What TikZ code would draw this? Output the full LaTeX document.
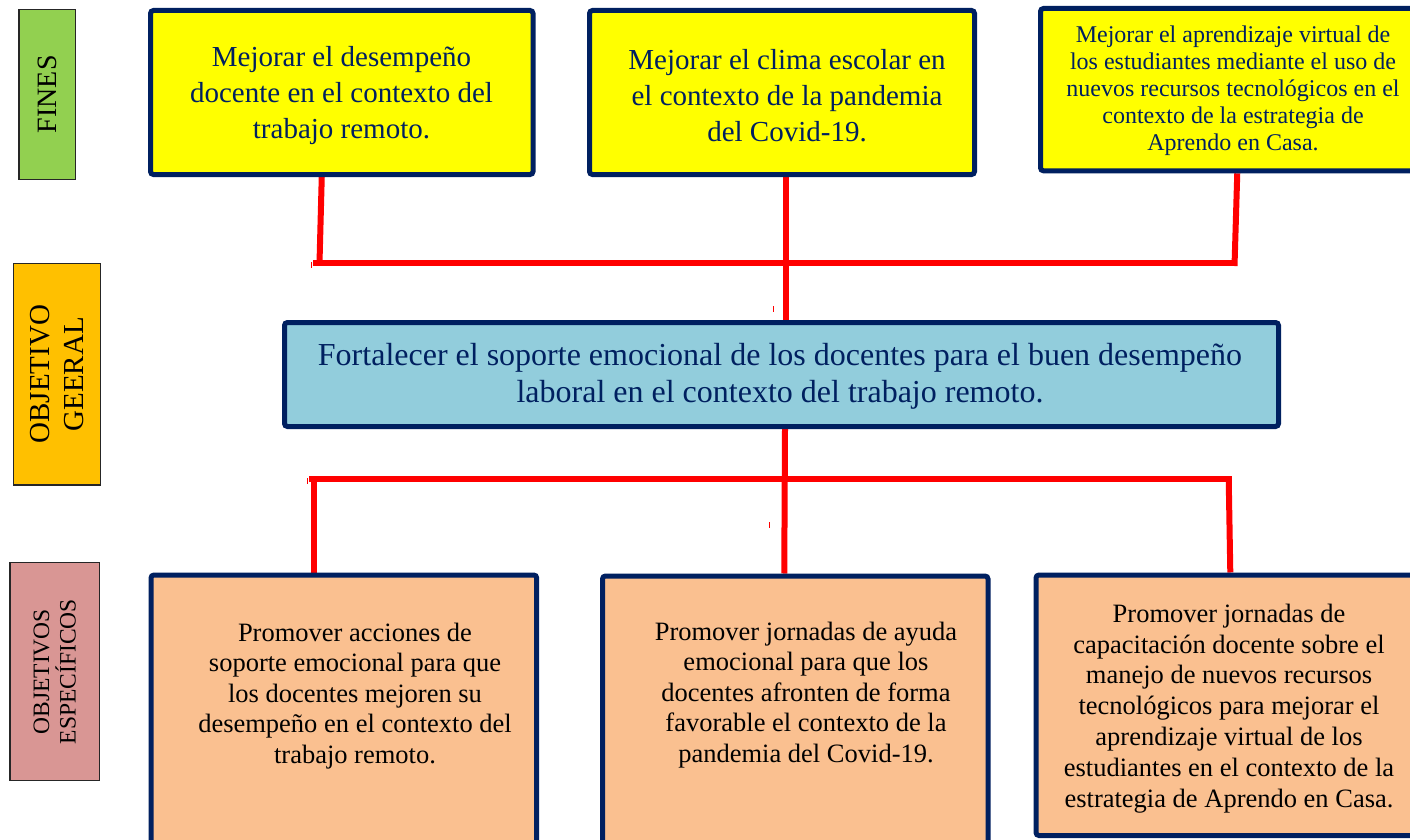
\documentclass[tikz,border=0pt]{standalone}
\usepackage{fontspec}
\setmainfont{Liberation Serif}
\usetikzlibrary{calc}
\definecolor{navy}{RGB}{0,32,96}
\definecolor{finesgreen}{RGB}{146,208,80}
\definecolor{goldlab}{RGB}{255,192,0}
\definecolor{roselab}{RGB}{217,150,148}
\definecolor{topyellow}{RGB}{255,255,0}
\definecolor{midblue}{RGB}{146,205,220}
\definecolor{peach}{RGB}{250,192,144}
\pgfdeclarelayer{bg}
\pgfdeclarelayer{wires}
\pgfsetlayers{bg,wires,main}
\begin{document}
\begin{tikzpicture}[x=1pt,y=-1pt,
  navybox/.style={draw=navy, line width=5pt, rounded corners=3pt, inner sep=0pt},
  sidelabel/.style={draw=black!85, line width=1.2pt, inner sep=0pt, rotate=90, align=center, text=black},
  toptext/.style={align=center, text=navy, inner sep=0pt, font=\fontsize{29}{36}\selectfont},
  smalltop/.style={align=center, text=navy, inner sep=0pt, font=\fontsize{24}{27}\selectfont},
  midtext/.style={align=center, text=navy, inner sep=0pt, font=\fontsize{32}{37}\selectfont},
  bottext/.style={align=center, text=black, inner sep=0pt, font=\fontsize{26.5}{30.4}\selectfont},
  wire/.style={draw=red, line width=6pt},
  speck/.style={draw=red, line width=1pt}]
\useasboundingbox (0,0) rectangle (1410,840);
\clip (0,0) rectangle (1410,840);
\begin{pgfonlayer}{bg}
  \fill[white] (0,0) rectangle (1410,840);
\end{pgfonlayer}

% side labels
\node[sidelabel, fill=finesgreen, minimum width=170, minimum height=56.7,
      font=\fontsize{28}{32}\selectfont] (lfines) at (47.3,94.3) {FINES};
\node[sidelabel, fill=goldlab, minimum width=221.7, minimum height=87.4,
      font=\fontsize{29}{33.3}\selectfont] (lgen) at (57,374.2) {OBJETIVO\\GEERAL};
\node[sidelabel, fill=roselab, minimum width=218, minimum height=89.3,
      font=\fontsize{23.5}{26.7}\selectfont] (lesp) at (54.7,671.7) {OBJETIVOS\\ESPECÍFICOS};

% top boxes (fines)
\node[navybox, fill=topyellow, minimum width=382.5, minimum height=164] (t1) at (341.75,92.5) {};
\node[toptext] (t1t) at (341.5,95.5) {Mejorar el desempeño\\docente en el contexto del\\trabajo remoto.};
\node[navybox, fill=topyellow, minimum width=385, minimum height=164] (t2) at (782,92.5) {};
\node[toptext] (t2t) at (787,95.5) {Mejorar el clima escolar en\\el contexto de la pandemia\\del Covid-19.};
\node[navybox, fill=topyellow, minimum width=384.5, minimum height=162.3] (t3) at (1232.75,89.65) {};
\node[smalltop] (t3t) at (1233,90.5) {Mejorar el aprendizaje virtual de\\los estudiantes mediante el uso de\\nuevos recursos tecnológicos en el\\contexto de la estrategia de\\Aprendo en Casa.};

% middle box
\node[navybox, fill=midblue, minimum width=994, minimum height=104] (mid) at (781.5,374.5) {};
\node[midtext] (midt) at (780,376) {Fortalecer el soporte emocional de los docentes para el buen desempeño\\laboral en el contexto del trabajo remoto.};

% bottom boxes
\node[navybox, fill=peach, minimum width=385.7, minimum height=325] (b1) at (343.85,737.5) {};
\node[bottext] (b1t) at (355,696) {Promover acciones de\\soporte emocional para que\\los docentes mejoren su\\desempeño en el contexto del\\trabajo remoto.};
\node[navybox, fill=peach, minimum width=385.5, minimum height=324] (b2) at (795.25,738) {};
\node[bottext] (b2t) at (806,695) {Promover jornadas de ayuda\\emocional para que los\\docentes afronten de forma\\favorable el contexto de la\\pandemia del Covid-19.};
\node[navybox, fill=peach, minimum width=389, minimum height=260.5] (b3) at (1230.5,705.25) {};
\node[bottext, font=\fontsize{26.5}{30.9}\selectfont] (b3t) at (1229,708.5) {Promover jornadas de\\capacitación docente sobre el\\manejo de nuevos recursos\\tecnológicos para mejorar el\\aprendizaje virtual de los\\estudiantes en el contexto de la\\estrategia de Aprendo en Casa.};

% connectors
\coordinate (upL) at (313,263);
\coordinate (upR) at (1232,263);
\coordinate (up1) at (319.5,263);
\coordinate (up3) at (1234.5,266);
\coordinate (loL) at (309,479);
\coordinate (loR) at (1231.7,479);
\coordinate (lo1) at (314,479);
\coordinate (lo3) at (1228.7,479);
\begin{pgfonlayer}{wires}
  \draw[wire] ([xshift=-20pt]t1.south) -- (up1);
  \draw[wire] (upL) -- (upR);
  \draw[wire] ([xshift=4.5pt]t3.south) -- (up3);
  \draw[wire] ([xshift=4pt]t2.south) -- ([xshift=4.5pt]mid.north);
  \draw[wire] ([xshift=3.5pt]mid.south) -- ([xshift=-11pt]b2.north);
  \draw[wire] (loL) -- (loR);
  \draw[wire] (lo1) -- (lo1 |- b1.north);
  \draw[wire] (lo3) -- ([xshift=-0.2pt]b3.north);
  % small red specks
  \draw[speck] (311.7,262) -- (311.7,268);
  \draw[speck] (773.3,306) -- (773.3,312);
  \draw[speck] (307.5,478) -- (307.5,484);
  \draw[speck] (769,522) -- (769,528);
\end{pgfonlayer}
\end{tikzpicture}
\end{document}
